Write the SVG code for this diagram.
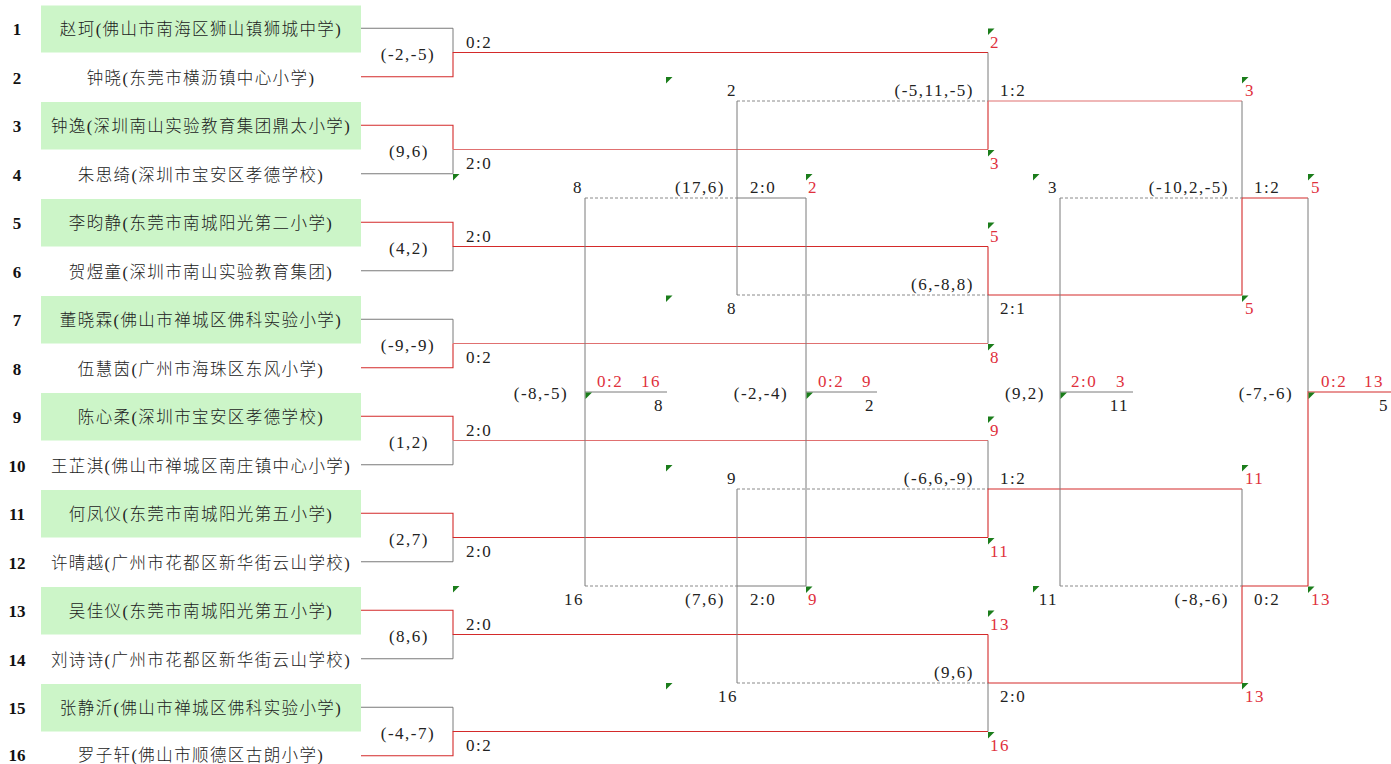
<svg xmlns="http://www.w3.org/2000/svg" xmlns:xlink="http://www.w3.org/1999/xlink" width="1391" height="764" viewBox="0 0 1391 764">
<style>
.bg{fill:#ffffff}
.box{fill:#ccf5c8}
.no{font-family:"Liberation Serif",serif;font-weight:bold;font-size:17px;text-anchor:middle;fill:#111}
.nm{font-family:"Liberation Serif","Noto Sans CJK SC",sans-serif;font-weight:300;font-size:16.5px;letter-spacing:1.4px;text-anchor:middle;fill:#222}
.t{font-family:"Liberation Serif",serif;font-size:17px;letter-spacing:1.5px;fill:#222}
.r{fill:#e0303c}
.e{text-anchor:end}
.m{text-anchor:middle}
.g{fill:none;stroke:#7a7a7a;stroke-width:1}
.d{fill:none;stroke:#8a8a8a;stroke-width:1;stroke-dasharray:3 2}
.w{fill:none;stroke:#d42a2a;stroke-width:1.1}
.wl{fill:none;stroke:#e07070;stroke-width:1.1}
</style>
<defs>
<path id="tri" d="M0,0H6.5L0,6.5Z" fill="#1b7d1b"/>
</defs>
<rect class="bg" x="0" y="0" width="1391" height="764"/>

<g id="players">
<g id="player-1"><rect class="box" x="41" y="5.5" width="320" height="47"/><text class="no" x="17" y="35">1</text><text class="nm" x="201" y="35">赵珂(佛山市南海区狮山镇狮城中学)</text></g>
<g id="player-2"><text class="no" x="17" y="83.5">2</text><text class="nm" x="201" y="83.5">钟晓(东莞市横沥镇中心小学)</text></g>
<g id="player-3"><rect class="box" x="41" y="102" width="320" height="47.5"/><text class="no" x="17" y="132">3</text><text class="nm" x="201" y="132">钟逸(深圳南山实验教育集团鼎太小学)</text></g>
<g id="player-4"><text class="no" x="17" y="180.5">4</text><text class="nm" x="201" y="180.5">朱思绮(深圳市宝安区孝德学校)</text></g>
<g id="player-5"><rect class="box" x="41" y="199" width="320" height="47.5"/><text class="no" x="17" y="229">5</text><text class="nm" x="201" y="229">李昀静(东莞市南城阳光第二小学)</text></g>
<g id="player-6"><text class="no" x="17" y="277.5">6</text><text class="nm" x="201" y="277.5">贺煜童(深圳市南山实验教育集团)</text></g>
<g id="player-7"><rect class="box" x="41" y="296" width="320" height="47.5"/><text class="no" x="17" y="326">7</text><text class="nm" x="201" y="326">董晓霖(佛山市禅城区佛科实验小学)</text></g>
<g id="player-8"><text class="no" x="17" y="374.5">8</text><text class="nm" x="201" y="374.5">伍慧茵(广州市海珠区东风小学)</text></g>
<g id="player-9"><rect class="box" x="41" y="393" width="320" height="47.5"/><text class="no" x="17" y="423">9</text><text class="nm" x="201" y="423">陈心柔(深圳市宝安区孝德学校)</text></g>
<g id="player-10"><text class="no" x="17" y="471.5">10</text><text class="nm" x="201" y="471.5">王芷淇(佛山市禅城区南庄镇中心小学)</text></g>
<g id="player-11"><rect class="box" x="41" y="490" width="320" height="47.5"/><text class="no" x="17" y="520">11</text><text class="nm" x="201" y="520">何凤仪(东莞市南城阳光第五小学)</text></g>
<g id="player-12"><text class="no" x="17" y="568.5">12</text><text class="nm" x="201" y="568.5">许晴越(广州市花都区新华街云山学校)</text></g>
<g id="player-13"><rect class="box" x="41" y="587" width="320" height="47.5"/><text class="no" x="17" y="617">13</text><text class="nm" x="201" y="617">吴佳仪(东莞市南城阳光第五小学)</text></g>
<g id="player-14"><text class="no" x="17" y="665.5">14</text><text class="nm" x="201" y="665.5">刘诗诗(广州市花都区新华街云山学校)</text></g>
<g id="player-15"><rect class="box" x="41" y="684" width="320" height="47.5"/><text class="no" x="17" y="714">15</text><text class="nm" x="201" y="714">张静沂(佛山市禅城区佛科实验小学)</text></g>
<g id="player-16"><text class="no" x="17" y="760.5">16</text><text class="nm" x="201" y="760.5">罗子轩(佛山市顺德区古朗小学)</text></g>
</g>

<g id="connectors">
<path class="g" d="M361,28.25H453V52.5"/>
<path class="g" d="M361,173.75H453V149.5"/>
<path class="g" d="M361,270.75H453V246.5"/>
<path class="g" d="M361,319.25H453V343.5"/>
<path class="g" d="M361,464.75H453V440.5"/>
<path class="g" d="M361,561.75H453V537.5"/>
<path class="g" d="M361,658.75H453V634.5"/>
<path class="g" d="M361,707.25H453V731.5"/>
<path class="w" d="M361,76.75H453V52.5H988"/>
<path class="w" d="M361,125.25H453V149.5"/>
<path class="wl" d="M453,149.5H988"/>
<path class="w" d="M361,222.25H453V246.5H988"/>
<path class="w" d="M361,367.75H453V343.5"/>
<path class="wl" d="M453,343.5H988"/>
<path class="w" d="M361,416.25H453V440.5"/>
<path class="wl" d="M453,440.5H988"/>
<path class="w" d="M361,513.25H453V537.5H988"/>
<path class="w" d="M361,610.25H453V634.5H988"/>
<path class="w" d="M361,755.75H453V731.5H988"/>
<path class="g" d="M988,52.5V101"/>
<path class="w" d="M988,149.5V101"/>
<path class="wl" d="M988,101H1242"/>
<path class="w" d="M988,246.5V295H1242"/>
<path class="g" d="M988,343.5V295"/>
<path class="g" d="M988,440.5V489"/>
<path class="w" d="M988,537.5V489H1242"/>
<path class="w" d="M988,634.5V683H1242"/>
<path class="g" d="M988,731.5V683"/>
<path class="d" d="M737,101H988M737,295H988M737,489H988M737,683H988"/>
<path class="g" d="M1242,101V198"/>
<path class="w" d="M1242,295V198H1308"/>
<path class="g" d="M1242,489V586"/>
<path class="w" d="M1242,683V586H1308"/>
<path class="d" d="M1060,198H1242M1060,586H1242"/>
<path class="g" d="M1308,198V392"/>
<path class="w" d="M1308,586V392H1391"/>
<path class="g" d="M737,101V295M737,198H806M737,489V683M737,586H806"/>
<path class="d" d="M585,198H737M585,586H737"/>
<path class="g" d="M806,198V586M806,392H877"/>
<path class="g" d="M585,198V586M585,392H667"/>
<path class="g" d="M1060,198V586M1060,392H1133"/>
</g>

<g id="markers">
<use xlink:href="#tri" x="453" y="174"/>
<use xlink:href="#tri" x="453" y="586"/>
<use xlink:href="#tri" x="666" y="77"/>
<use xlink:href="#tri" x="666" y="295.5"/>
<use xlink:href="#tri" x="666" y="465"/>
<use xlink:href="#tri" x="666" y="683"/>
<use xlink:href="#tri" x="988" y="28.5"/>
<use xlink:href="#tri" x="988" y="150"/>
<use xlink:href="#tri" x="988" y="222.5"/>
<use xlink:href="#tri" x="988" y="344"/>
<use xlink:href="#tri" x="988" y="416.5"/>
<use xlink:href="#tri" x="988" y="538"/>
<use xlink:href="#tri" x="988" y="610.5"/>
<use xlink:href="#tri" x="988" y="732"/>
<use xlink:href="#tri" x="806" y="174"/>
<use xlink:href="#tri" x="806" y="586.5"/>
<use xlink:href="#tri" x="585.5" y="392.5"/>
<use xlink:href="#tri" x="806.5" y="392.5"/>
<use xlink:href="#tri" x="1033" y="174"/>
<use xlink:href="#tri" x="1060.5" y="392.5"/>
<use xlink:href="#tri" x="1033" y="586"/>
<use xlink:href="#tri" x="1242" y="77"/>
<use xlink:href="#tri" x="1242" y="295.5"/>
<use xlink:href="#tri" x="1242" y="465"/>
<use xlink:href="#tri" x="1242" y="683"/>
<use xlink:href="#tri" x="1308" y="174"/>
<use xlink:href="#tri" x="1308.5" y="392.5"/>
<use xlink:href="#tri" x="1308" y="586.5"/>
</g>

<g id="round1">
<g id="m1"><text class="t m" x="408" y="59.5">(-2,-5)</text><text class="t" x="466" y="47.5">0:2</text></g>
<g id="m2"><text class="t m" x="409" y="156.5">(9,6)</text><text class="t" x="466" y="168.5">2:0</text></g>
<g id="m3"><text class="t m" x="409" y="253.5">(4,2)</text><text class="t" x="466" y="241.5">2:0</text></g>
<g id="m4"><text class="t m" x="408" y="350.5">(-9,-9)</text><text class="t" x="466" y="362.5">0:2</text></g>
<g id="m5"><text class="t m" x="409" y="447.5">(1,2)</text><text class="t" x="466" y="435.5">2:0</text></g>
<g id="m6"><text class="t m" x="409" y="544.5">(2,7)</text><text class="t" x="466" y="556.5">2:0</text></g>
<g id="m7"><text class="t m" x="409" y="641.5">(8,6)</text><text class="t" x="466" y="629.5">2:0</text></g>
<g id="m8"><text class="t m" x="408" y="738.5">(-4,-7)</text><text class="t" x="466" y="750.5">0:2</text></g>
</g>

<g id="round2">
<g id="m9"><text class="t r" x="990" y="47.5">2</text><text class="t r" x="990" y="168.5">3</text><text class="t e" x="974" y="96">(-5,11,-5)</text><text class="t" x="1000" y="96">1:2</text><text class="t e" x="737" y="96">2</text></g>
<g id="m10"><text class="t r" x="990" y="241.5">5</text><text class="t r" x="990" y="362.5">8</text><text class="t e" x="974" y="290">(6,-8,8)</text><text class="t" x="1000" y="314">2:1</text><text class="t e" x="737" y="314">8</text></g>
<g id="m11"><text class="t r" x="990" y="435.5">9</text><text class="t r" x="990" y="556.5">11</text><text class="t e" x="974" y="484">(-6,6,-9)</text><text class="t" x="1000" y="484">1:2</text><text class="t e" x="737" y="484">9</text></g>
<g id="m12"><text class="t r" x="990" y="629.5">13</text><text class="t r" x="990" y="750.5">16</text><text class="t e" x="974" y="678">(9,6)</text><text class="t" x="1000" y="702">2:0</text><text class="t e" x="738" y="702">16</text></g>
</g>

<g id="round3">
<g id="m13"><text class="t r" x="1245" y="96">3</text><text class="t r" x="1245" y="314">5</text><text class="t e" x="1229" y="193">(-10,2,-5)</text><text class="t" x="1254" y="193">1:2</text><text class="t r" x="1311" y="193">5</text><text class="t e" x="1058" y="193">3</text></g>
<g id="m14"><text class="t r" x="1245" y="484">11</text><text class="t r" x="1245" y="702">13</text><text class="t e" x="1229" y="605">(-8,-6)</text><text class="t" x="1254" y="605">0:2</text><text class="t r" x="1311" y="605">13</text><text class="t e" x="1058" y="605">11</text></g>
</g>

<g id="losers">
<g id="m15"><text class="t e" x="725" y="193">(17,6)</text><text class="t" x="750" y="193">2:0</text><text class="t r" x="808" y="193">2</text><text class="t e" x="583" y="193">8</text></g>
<g id="m16"><text class="t e" x="725" y="605">(7,6)</text><text class="t" x="750" y="605">2:0</text><text class="t r" x="808" y="605">9</text><text class="t e" x="584" y="605">16</text></g>
<g id="m17"><text class="t m" x="541" y="398.5">(-8,-5)</text><text class="t r" x="597" y="387">0:2</text><text class="t r e" x="661" y="387">16</text><text class="t e" x="664" y="411">8</text></g>
<g id="m18"><text class="t m" x="761" y="398.5">(-2,-4)</text><text class="t r" x="818" y="387">0:2</text><text class="t r e" x="872" y="387">9</text><text class="t e" x="875" y="411">2</text></g>
<g id="m19"><text class="t m" x="1025" y="398.5">(9,2)</text><text class="t r" x="1071" y="387">2:0</text><text class="t r e" x="1126" y="387">3</text><text class="t e" x="1129" y="411">11</text></g>
<g id="m20"><text class="t m" x="1266" y="398.5">(-7,-6)</text><text class="t r" x="1321" y="387">0:2</text><text class="t r e" x="1384" y="387">13</text><text class="t e" x="1389" y="411">5</text></g>
</g>
</svg>
